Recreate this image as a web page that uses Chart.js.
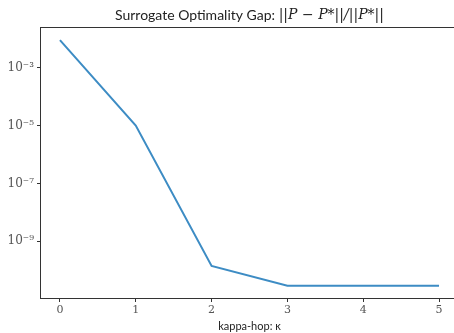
<!DOCTYPE html>
<html>
<head>
<meta charset="utf-8">
<script src="https://cdn.jsdelivr.net/npm/chart.js@4/dist/chart.umd.min.js"></script>
<style>
  body { margin: 0; background: #fff; }
  #wrap { width: 454px; height: 333px; overflow: hidden; }
</style>
</head>
<body>
<div id="wrap"><canvas id="chart-gap" width="462" height="333"></canvas></div>
<script>
'use strict';
// data
var kappa = [0, 1, 2, 3, 4, 5];
var gap = [8.9e-3, 1.0e-5, 1.4e-10, 2.9e-11, 2.9e-11, 2.9e-11];
var xTicks = [0, 1, 2, 3, 4, 5];
var yTicks = [1e-9, 1e-7, 1e-5, 1e-3];
var yTickText = ['10\u207B\u2079', '10\u207B\u2077', '10\u207B\u2075', '10\u207B\u00B3'];

var points = kappa.map(function(k, i) { return { x: k, y: gap[i] }; });

// [ title + box ] start
var boxAndTitle = {
    id: 'boxAndTitle',
    afterDraw: function(chart) {
        var ctx = chart.ctx, a = chart.chartArea;
        ctx.save();
        ctx.strokeStyle = '#333';
        ctx.lineWidth = 1;
        var l = Math.round(a.left) - 0.5, t = Math.round(a.top) - 0.5;
        var r = Math.round(a.right) + 0.5, b = Math.round(a.bottom) + 0.5;
        ctx.strokeRect(l, t, r - l, b - t);

        var part1 = 'Surrogate Optimality Gap: ';
        var part2 = '||P \u2212 P*||/||P*||';
        ctx.fillStyle = '#222';
        ctx.textBaseline = 'middle';
        ctx.font = '14px Lato';
        var w1 = ctx.measureText(part1).width;
        ctx.font = 'italic 14px "DejaVu Serif"';
        var w2 = ctx.measureText(part2).width;
        var cx = (a.left + a.right) / 2;
        var x0 = cx - (w1 + w2) / 2;
        ctx.font = '14px Lato';
        ctx.textAlign = 'left';
        ctx.fillText(part1, x0, 15);
        ctx.font = 'italic 14px "DejaVu Serif"';
        ctx.fillText(part2, x0 + w1, 15);
        ctx.restore();
    }
};
// [ title + box ] end

var ctx = document.getElementById('chart-gap').getContext('2d');
var gapChart = new Chart(ctx, {
    type: 'line',
    data: {
        datasets: [{
            label: 'gap',
            data: points,
            borderColor: '#3d8cc4',
            backgroundColor: '#3d8cc4',
            borderWidth: 2,
            pointRadius: 0,
            tension: 0,
            fill: false
        }]
    },
    options: {
        responsive: false,
        animation: false,
        layout: { padding: { top: 28, right: 4, left: 0, bottom: 0 } },
        plugins: {
            legend: { display: false },
            tooltip: { enabled: false }
        },
        scales: {
            x: {
                type: 'linear',
                min: -0.25,
                max: 5.25,
                afterBuildTicks: function(scale) {
                    scale.ticks = xTicks.map(function(v) { return { value: v }; });
                },
                afterFit: function(scale) { scale.height = 35; },
                grid: { drawOnChartArea: false, drawTicks: true, tickLength: 4, color: '#333' },
                border: { display: false },
                ticks: {
                    padding: 2,
                    color: '#555',
                    font: { family: 'DejaVu Serif', size: 11 },
                    maxRotation: 0,
                    callback: function(v) { return String(v); }
                },
                title: {
                    display: true,
                    text: 'kappa-hop: \u03BA',
                    color: '#222',
                    font: { family: 'Lato', size: 11 },
                    padding: { top: 0, bottom: 0 }
                }
            },
            y: {
                type: 'logarithmic',
                min: Math.pow(10, -10.96),
                max: Math.pow(10, -1.63),
                afterBuildTicks: function(scale) {
                    scale.ticks = yTicks.map(function(v) { return { value: v }; });
                },
                afterFit: function(scale) { scale.width = 41; },
                grid: { drawOnChartArea: false, drawTicks: true, tickLength: 4, color: '#333' },
                border: { display: false },
                ticks: {
                    padding: 3,
                    color: '#555',
                    font: { family: 'DejaVu Serif', size: 12 },
                    callback: function(v) {
                        var i = yTicks.indexOf(v);
                        return i >= 0 ? yTickText[i] : '';
                    }
                }
            }
        }
    },
    plugins: [boxAndTitle]
});
</script>
</body>
</html>
